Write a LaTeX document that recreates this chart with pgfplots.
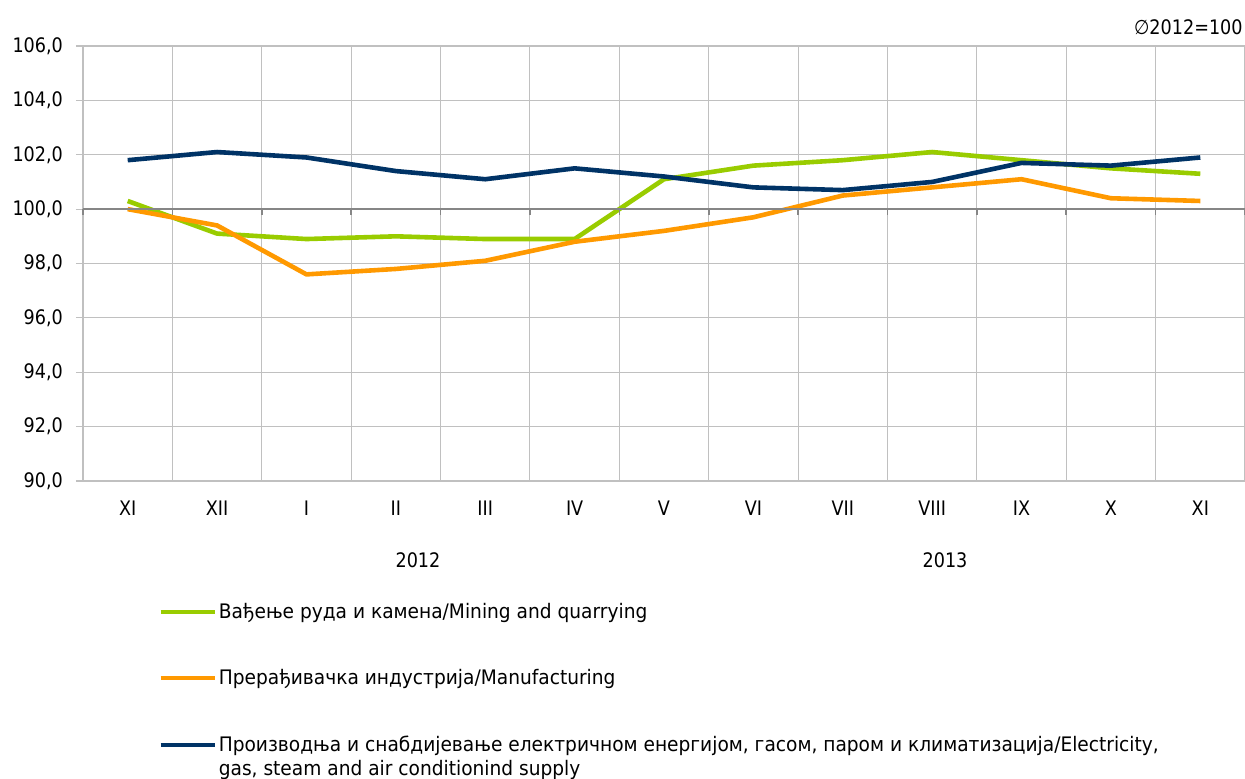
\documentclass[border=0pt]{standalone}
\usepackage{fontspec}
\setmainfont{DejaVu Sans}[FakeStretch=0.88]
\newfontfamily\legfont{DejaVu Sans}[FakeStretch=0.93]
\usepackage{pgfplots}
\pgfplotsset{compat=1.18}
\definecolor{cgreen}{RGB}{153,204,0}
\definecolor{corange}{RGB}{255,153,0}
\definecolor{cnavy}{RGB}{0,51,102}
\definecolor{cgrid}{RGB}{192,192,192}
\definecolor{caxis}{RGB}{134,134,134}
\begin{document}
\begin{tikzpicture}[x=1pt,y=1pt]
\useasboundingbox (-41.5,-148.5) rectangle (581,240.5);
\begin{axis}[
  at={(0,0)}, anchor=south west,
  scale only axis, width=581pt, height=217.5pt,
  xmin=-0.5, xmax=12.5, ymin=90, ymax=106,
  ytick={90,92,...,106},
  xtick={0,...,12},
  xticklabels={XI,XII,I,II,III,IV,V,VI,VII,VIII,IX,X,XI},
  minor xtick={-0.5,0.5,...,12.5},
  xminorgrids=true, ymajorgrids=true, xmajorgrids=false,
  grid style={cgrid, line width=0.55pt},
  minor grid style={cgrid, line width=0.55pt},
  axis line style={draw=none},
  major x tick style={draw=none}, minor x tick style={draw=none},
  ytick style={cgrid, line width=0.55pt},
  tick align=outside, major tick length=3.5pt,
  ytick pos=left, xtick pos=bottom,
  font=\fontsize{10pt}{12pt}\selectfont,
  /pgf/number format/fixed, /pgf/number format/fixed zerofill,
  /pgf/number format/precision=1, /pgf/number format/use comma,
  /pgf/number format/assume math mode=true,
  yticklabel style={xshift=-3pt},
  xticklabel style={yshift=-3pt},
  clip=false,
  legend style={at={(37.5pt,-60pt)}, anchor=north west, draw=none, fill=none,
    font=\legfont\fontsize{10pt}{12pt}\selectfont, row sep=22pt, inner sep=0pt,
    cells={anchor=base west}, nodes={inner sep=1pt}},
  legend image code/.code={\draw[#1, line width=2.2pt] (0pt,3.3pt) -- (27pt,3.3pt);},
]
\addplot[cgreen, line width=2.3pt] coordinates {
(0,100.3) (1,99.1) (2,98.9) (3,99.0) (4,98.9) (5,98.9) (6,101.1) (7,101.6) (8,101.8) (9,102.1) (10,101.8) (11,101.5) (12,101.3)};
\addlegendentry{Вађење руда и камена/Mining and quarrying}
\addplot[corange, line width=2.3pt] coordinates {
(0,100.0) (1,99.4) (2,97.6) (3,97.8) (4,98.1) (5,98.8) (6,99.2) (7,99.7) (8,100.5) (9,100.8) (10,101.1) (11,100.4) (12,100.3)};
\addlegendentry{\raisebox{0pt}[\height][0.9pt]{Прерађивачка индустрија/Manufacturing}}
\addplot[cnavy, line width=2.3pt] coordinates {
(0,101.8) (1,102.1) (2,101.9) (3,101.4) (4,101.1) (5,101.5) (6,101.2) (7,100.8) (8,100.7) (9,101.0) (10,101.7) (11,101.6) (12,101.9)};
\addlegendentry{\vtop{\hbox{Производња и снабдијевање електричном енергијом, гасом, паром и климатизација/Electricity,}\hbox{gas, steam and air conditionind supply}}}
\end{axis}
\draw[caxis, line width=0.8pt] (0,135.9375) -- (581,135.9375);
\foreach \k in {0,...,13}{\draw[caxis, line width=0.8pt] ({\k*44.6923},135.9375) -- ++(0,-3);}
\node[font=\fontsize{10pt}{12pt}\selectfont] at (167.5,-39.5) {2012};
\node[font=\fontsize{10pt}{12pt}\selectfont] at (431,-39.5) {2013};
\node[font=\fontsize{10pt}{12pt}\selectfont, anchor=east, inner sep=0pt] at (580,227) {∅2012=100};
\end{tikzpicture}
\end{document}
